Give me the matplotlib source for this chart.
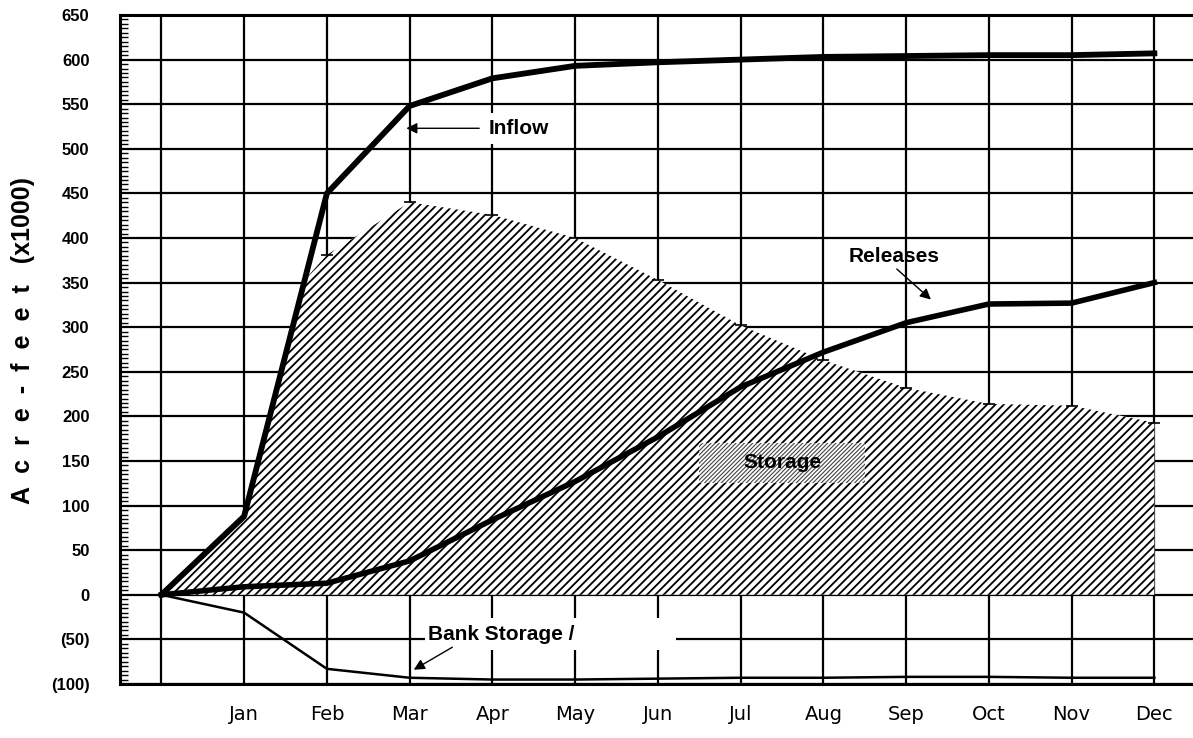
import numpy as np
import matplotlib.pyplot as plt
from matplotlib.ticker import MultipleLocator

# month positions (0 = start of water year)
months = ['', 'Jan', 'Feb', 'Mar', 'Apr', 'May', 'Jun', 'Jul', 'Aug', 'Sep', 'Oct', 'Nov', 'Dec']
x_pos = list(range(13))

# cumulative values, acre-feet x1000
inflow = [0, 88, 450, 548, 579, 593, 597, 600, 603, 604, 605, 605, 607]
releases = [0, 9, 13, 38, 84, 127, 177, 233, 272, 305, 326, 327, 350]
bank_storage = [0, -20, -83, -93, -95, -95, -94, -93, -93, -92, -92, -93, -93]

# storage area outline (hugs the inflow line before Feb)
storage_x = [0, 1, 1.75, 2, 3, 4, 5, 6, 7, 8, 9, 10, 11, 12]
storage = [0, 86, 355, 381, 440, 426, 400, 353, 302, 263, 232, 214, 212, 193]

y_ticks = list(range(-100, 651, 50))
y_labels = ['(%d)' % -v if v < 0 else str(v) for v in y_ticks]

plt.rcParams['hatch.linewidth'] = 1.3

fig = plt.figure(figsize=(11.93, 7.38), dpi=100)
ax = fig.add_axes([120/1193, 54/738, 13*82.75/1193, 669/738])

ax.set_xlim(-0.5, 12.5)
ax.set_ylim(-100, 650)

# grid under everything
ax.set_axisbelow(True)
ax.grid(True, color='black', lw=1.6)

fill = ax.fill_between(storage_x, 0, storage, facecolor='white', edgecolor='black',
                       hatch='////', lw=0, zorder=1.5)
ax.plot(storage_x[3:], storage[3:], ls='none', marker='_', ms=9, mew=1.2, color='black', zorder=1.6)

ax.plot(x_pos, inflow, color='black', lw=4.2, zorder=3)
ax.plot(x_pos, releases, color='black', lw=4.0, zorder=3)
ax.plot(x_pos, bank_storage, color='black', lw=1.8, zorder=3)

ax.set_xticks(x_pos)
ax.set_xticklabels(months, fontsize=14, family='DejaVu Sans')
ax.tick_params(axis='x', length=0, pad=15)

ax.set_yticks(y_ticks)
ax.set_yticklabels(y_labels, fontsize=12, fontweight='bold', family='Liberation Sans')
ax.yaxis.set_minor_locator(MultipleLocator(5))
ax.tick_params(axis='y', which='major', length=0, pad=22)
ax.tick_params(axis='y', which='minor', direction='in', length=6, width=1)

for s in ['left', 'top', 'bottom']:
    ax.spines[s].set_linewidth(2.2)
ax.spines['right'].set_visible(False)

ax.set_ylabel('A  c  r  e  -  f  e  e  t   (x1000)', fontsize=18, fontweight='bold',
              family='Liberation Sans')
ax.yaxis.set_label_coords(-0.079, 0.514)

# annotations
ax.annotate('Inflow', xy=(2.96, 523), xytext=(3.95, 523), fontsize=15, fontweight='bold',
            family='Liberation Sans', va='center', ha='left',
            bbox=dict(boxstyle='square,pad=0.3', fc='white', ec='none'),
            arrowprops=dict(arrowstyle='-|>', color='black', lw=1, mutation_scale=16,
                            shrinkA=2, shrinkB=0))
ax.annotate('Releases', xy=(9.3, 331), xytext=(8.3, 379), fontsize=15, fontweight='bold',
            family='Liberation Sans', va='center', ha='left',
            arrowprops=dict(arrowstyle='-|>', color='black', lw=1, mutation_scale=16,
                            shrinkA=0, shrinkB=0, relpos=(0.5, 0)))
# white strip behind the bank storage label
ax.add_patch(plt.Rectangle((3.19, -62), 3.03, 36, facecolor='white', lw=0, zorder=1))
ax.annotate('Bank Storage /', xy=(3.05, -84), xytext=(3.22, -45), fontsize=15, fontweight='bold',
            family='Liberation Sans', va='center', ha='left',
            arrowprops=dict(arrowstyle='-|>', color='black', lw=1, mutation_scale=16,
                            shrinkA=0, shrinkB=0, relpos=(0.2, 0)))

rect = plt.Rectangle((6.5, 125), 2.0, 45, facecolor='white', edgecolor='#444444',
                     hatch='////////', lw=0, zorder=2.5)
if hasattr(rect, 'set_hatch_linewidth'):
    rect.set_hatch_linewidth(0.8)
ax.add_patch(rect)
ax.text(7.5, 148, 'Storage', fontsize=15, fontweight='bold', family='Liberation Sans',
        ha='center', va='center', zorder=2.6)

fig.savefig('out.png', dpi=100)
